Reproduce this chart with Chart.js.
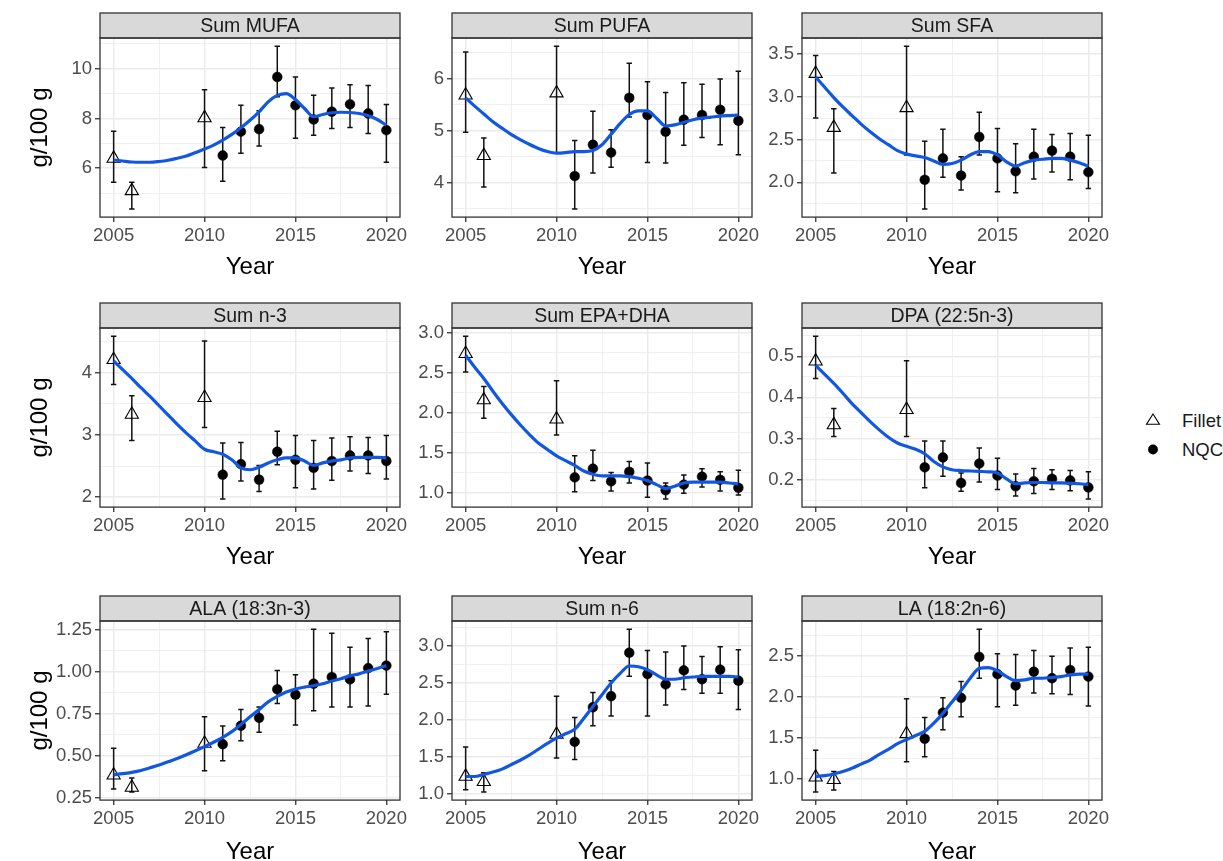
<!DOCTYPE html>
<html>
<head>
<meta charset="utf-8">
<script src="https://cdn.jsdelivr.net/npm/chart.js@4.4.0/dist/chart.umd.min.js"></script>
<style>
  html, body { margin: 0; padding: 0; background: #fff; overflow: hidden; }
  #fig { position: relative; width: 1223px; height: 861px; }
  #fig canvas { position: absolute; }
  .key { position: absolute; left: 1140px; height: 29px; display: flex; align-items: center;
         font-family: "Liberation Sans", Arial, sans-serif; font-size: 18.5px; color: #1a1a1a; }
  .key svg { width: 42px; height: 29px; flex: none; }
</style>
</head>
<body>
<div id="fig">
  <div class="key" style="top:406px">
    <svg viewBox="0 0 42 29"><polygon points="13,8 19.5,18.2 6.5,18.2" fill="none" stroke="#000" stroke-width="1.1"/></svg>
    <span>Fillet</span>
  </div>
  <div class="key" style="top:435px">
    <svg viewBox="0 0 42 29"><circle cx="13" cy="14.5" r="4.9" fill="#000"/></svg>
    <span>NQC</span>
  </div>
</div>
<script>
// Sampling years and sample type for each observation
const years = [2005, 2006, 2010, 2011, 2012, 2013, 2014, 2015, 2016, 2017, 2018, 2019, 2020];
const sampleType = ['Fillet', 'Fillet', 'Fillet', 'NQC', 'NQC', 'NQC', 'NQC', 'NQC', 'NQC', 'NQC', 'NQC', 'NQC', 'NQC'];

// Years at which the fitted trend is given
const smoothYears = [2005, 2005.5, 2006, 2006.5, 2007, 2007.5, 2008, 2008.5, 2009, 2009.5, 2010, 2010.5,
  2011, 2011.5, 2012, 2012.5, 2013, 2013.5, 2014, 2014.5, 2015, 2015.5, 2016, 2016.5,
  2017, 2017.5, 2018, 2018.5, 2019, 2019.5, 2020];

const panelTitles = ['Sum MUFA', 'Sum PUFA', 'Sum SFA', 'Sum n-3', 'Sum EPA+DHA', 'DPA (22:5n-3)',
  'ALA (18:3n-3)', 'Sum n-6', 'LA (18:2n-6)'];
const yTickSteps = [2, 1, 0.5, 1, 0.5, 0.1, 0.25, 0.5, 0.5];
const xTickLabels = [2005, 2010, 2015, 2020];

// g/100 g: mean, lower and upper interval limits, fitted trend
const mufaMean = [6.39, 5.09, 8.02, 6.51, 7.47, 7.57, 9.67, 8.53, 7.96, 8.27, 8.57, 8.2, 7.53];
const mufaLow = [5.43, 4.36, 6.03, 5.47, 6.6, 6.89, 8.87, 7.2, 7.33, 7.6, 7.64, 7.4, 6.24];
const mufaHigh = [7.49, 5.43, 9.16, 7.64, 8.53, 8.31, 10.91, 9.67, 8.93, 9.23, 9.36, 9.33, 8.56];
const mufaSmooth = [6.33, 6.29, 6.25, 6.24, 6.24, 6.27, 6.32, 6.4, 6.49, 6.63, 6.77, 6.93, 7.13, 7.36, 7.63,
  7.93, 8.27, 8.67, 8.93, 9.0, 8.76, 8.4, 8.07, 8.16, 8.23, 8.25, 8.24, 8.2, 8.11, 7.96, 7.73];

const pufaMean = [5.68, 4.52, 5.72, 4.13, 4.73, 4.58, 5.63, 5.3, 4.98, 5.21, 5.3, 5.4, 5.19];
const pufaLow = [4.97, 3.92, 4.57, 3.5, 4.19, 4.3, 5.26, 4.39, 4.38, 4.72, 4.87, 4.73, 4.54];
const pufaHigh = [6.51, 4.86, 6.62, 4.81, 5.37, 5.02, 6.29, 5.94, 5.73, 5.92, 5.89, 5.99, 6.14];
const pufaSmooth = [5.63, 5.47, 5.32, 5.17, 5.05, 4.93, 4.83, 4.74, 4.66, 4.6, 4.57, 4.58, 4.6, 4.6, 4.62,
  4.73, 4.93, 5.14, 5.31, 5.38, 5.38, 5.24, 5.09, 5.11, 5.16, 5.21, 5.24, 5.26, 5.28, 5.29, 5.3];

const sfaMean = [3.27, 2.64, 2.87, 2.03, 2.28, 2.08, 2.53, 2.28, 2.13, 2.3, 2.37, 2.3, 2.12];
const sfaLow = [2.75, 2.11, 2.32, 1.69, 2.06, 1.91, 2.32, 1.89, 1.88, 2.04, 2.12, 2.03, 1.93];
const sfaHigh = [3.48, 2.86, 3.59, 2.48, 2.62, 2.3, 2.82, 2.63, 2.45, 2.62, 2.56, 2.57, 2.55];
const sfaSmooth = [3.23, 3.11, 2.99, 2.88, 2.78, 2.68, 2.59, 2.51, 2.44, 2.37, 2.33, 2.31, 2.29, 2.25, 2.21,
  2.22, 2.26, 2.32, 2.36, 2.36, 2.32, 2.24, 2.19, 2.23, 2.26, 2.27, 2.28, 2.28, 2.26, 2.23, 2.19];

const n3Mean = [4.21, 3.33, 3.6, 2.36, 2.53, 2.28, 2.73, 2.6, 2.47, 2.58, 2.67, 2.67, 2.58];
const n3Low = [3.81, 2.91, 3.12, 1.97, 2.26, 2.09, 2.52, 2.15, 2.13, 2.27, 2.42, 2.38, 2.29];
const n3High = [4.59, 3.63, 4.51, 2.87, 2.88, 2.51, 3.06, 2.99, 2.91, 2.95, 2.97, 2.96, 2.99];
const n3Smooth = [4.19, 4.05, 3.91, 3.76, 3.62, 3.47, 3.32, 3.17, 3.03, 2.9, 2.77, 2.73, 2.69, 2.6, 2.47,
  2.44, 2.48, 2.55, 2.6, 2.63, 2.63, 2.58, 2.51, 2.55, 2.58, 2.6, 2.63, 2.64, 2.64, 2.64, 2.63];

const epaDhaMean = [2.74, 2.16, 1.92, 1.19, 1.3, 1.14, 1.26, 1.15, 1.03, 1.1, 1.2, 1.16, 1.06];
const epaDhaLow = [2.51, 1.93, 1.72, 1.01, 1.15, 1.02, 1.12, 0.94, 0.92, 0.99, 1.07, 1.02, 0.97];
const epaDhaHigh = [2.96, 2.33, 2.4, 1.46, 1.53, 1.25, 1.39, 1.37, 1.12, 1.22, 1.3, 1.26, 1.28];
const epaDhaSmooth = [2.72, 2.57, 2.43, 2.27, 2.12, 1.98, 1.85, 1.73, 1.62, 1.54, 1.46, 1.4, 1.34, 1.27, 1.23,
  1.21, 1.21, 1.21, 1.2, 1.18, 1.15, 1.1, 1.05, 1.08, 1.12, 1.13, 1.13, 1.13, 1.13, 1.12, 1.11];

const dpaMean = [0.488, 0.333, 0.37, 0.23, 0.254, 0.192, 0.239, 0.21, 0.184, 0.196, 0.202, 0.198, 0.181];
const dpaLow = [0.446, 0.305, 0.305, 0.18, 0.208, 0.172, 0.194, 0.176, 0.16, 0.166, 0.176, 0.173, 0.153];
const dpaHigh = [0.549, 0.373, 0.489, 0.294, 0.294, 0.216, 0.277, 0.252, 0.214, 0.227, 0.224, 0.222, 0.219];
const dpaSmooth = [0.478, 0.456, 0.434, 0.41, 0.385, 0.363, 0.341, 0.321, 0.303, 0.289, 0.281, 0.274, 0.263,
  0.244, 0.231, 0.224, 0.222, 0.221, 0.22, 0.219, 0.216, 0.202, 0.19, 0.192, 0.193, 0.193, 0.192, 0.192,
  0.191, 0.19, 0.188];

const alaMean = [0.385, 0.312, 0.574, 0.569, 0.679, 0.726, 0.896, 0.864, 0.929, 0.969, 0.955, 1.022, 1.037];
const alaLow = [0.303, 0.285, 0.411, 0.47, 0.59, 0.64, 0.811, 0.683, 0.768, 0.791, 0.791, 0.797, 0.866];
const alaHigh = [0.545, 0.368, 0.732, 0.677, 0.776, 0.791, 1.008, 0.982, 1.254, 1.23, 1.146, 1.199, 1.238];
const alaSmooth = [0.388, 0.394, 0.402, 0.413, 0.429, 0.445, 0.465, 0.484, 0.506, 0.53, 0.555, 0.581, 0.61,
  0.644, 0.687, 0.732, 0.776, 0.821, 0.854, 0.88, 0.898, 0.909, 0.917, 0.929, 0.945, 0.959, 0.976, 0.988,
  1.004, 1.02, 1.037];

const n6Mean = [1.23, 1.16, 1.8, 1.7, 2.17, 2.32, 2.91, 2.62, 2.48, 2.67, 2.55, 2.68, 2.53];
const n6Low = [1.05, 1.02, 1.48, 1.46, 1.92, 2.05, 2.59, 2.05, 2.2, 2.41, 2.36, 2.36, 2.14];
const n6High = [1.63, 1.28, 2.32, 2.03, 2.37, 2.53, 3.23, 2.94, 2.92, 3.0, 2.86, 2.99, 2.95];
const n6Smooth = [1.23, 1.23, 1.26, 1.29, 1.33, 1.39, 1.45, 1.52, 1.6, 1.68, 1.75, 1.81, 1.87, 2.02, 2.18,
  2.34, 2.5, 2.63, 2.73, 2.72, 2.68, 2.61, 2.55, 2.55, 2.57, 2.58, 2.59, 2.59, 2.59, 2.59, 2.58];

const laMean = [1.02, 0.99, 1.55, 1.49, 1.81, 1.99, 2.49, 2.28, 2.14, 2.31, 2.23, 2.33, 2.25];
const laLow = [0.84, 0.865, 1.21, 1.27, 1.6, 1.76, 2.23, 1.88, 1.9, 2.05, 2.04, 2.03, 1.89];
const laHigh = [1.35, 1.09, 1.98, 1.75, 1.99, 2.19, 2.83, 2.53, 2.52, 2.57, 2.5, 2.6, 2.61];
const laSmooth = [1.03, 1.04, 1.06, 1.09, 1.13, 1.18, 1.23, 1.3, 1.36, 1.43, 1.48, 1.53, 1.58, 1.68, 1.8,
  1.94, 2.08, 2.23, 2.35, 2.36, 2.32, 2.25, 2.2, 2.21, 2.23, 2.23, 2.24, 2.25, 2.27, 2.28, 2.28];

// ---- page layout (pixels) ----
const colLeft = [100, 452, 802];
const plotWidth = 300;
const rowStripTop = [13, 303, 596];
const rowPlotTop = [38, 328, 621];
const rowPlotBottom = [217, 507, 800];
const rowTitleGap = [50.5, 50.5, 52.5];

const FONT = '"Liberation Sans", Arial, Helvetica, sans-serif';
const TREND_BLUE = '#1257E2';
const TITLE_SIZE = 24;
const TITLE_HALF_LINE = TITLE_SIZE * 1.2 / 2;

const panelSeries = [
  [mufaMean, mufaLow, mufaHigh, mufaSmooth],
  [pufaMean, pufaLow, pufaHigh, pufaSmooth],
  [sfaMean, sfaLow, sfaHigh, sfaSmooth],
  [n3Mean, n3Low, n3High, n3Smooth],
  [epaDhaMean, epaDhaLow, epaDhaHigh, epaDhaSmooth],
  [dpaMean, dpaLow, dpaHigh, dpaSmooth],
  [alaMean, alaLow, alaHigh, alaSmooth],
  [n6Mean, n6Low, n6High, n6Smooth],
  [laMean, laLow, laHigh, laSmooth]
];

// Error bars under the points, grey strip with the facet name, dark panel frame
const facetPlugin = {
  id: 'facet',
  beforeDatasetsDraw(chart, args, opts) {
    const { ctx, scales: { x, y } } = chart;
    ctx.save();
    ctx.strokeStyle = '#111';
    ctx.lineWidth = 1.5;
    const cap = 2.7;
    opts.years.forEach((yr, k) => {
      const px = x.getPixelForValue(yr);
      const lo = y.getPixelForValue(opts.low[k]);
      const hi = y.getPixelForValue(opts.high[k]);
      ctx.beginPath();
      ctx.moveTo(px, hi); ctx.lineTo(px, lo);
      ctx.moveTo(px - cap, hi); ctx.lineTo(px + cap, hi);
      ctx.moveTo(px - cap, lo); ctx.lineTo(px + cap, lo);
      ctx.stroke();
    });
    ctx.restore();
  },
  afterDraw(chart, args, opts) {
    const { ctx, chartArea: a } = chart;
    const top = opts.stripTop;
    ctx.save();
    ctx.fillStyle = '#D9D9D9';
    ctx.fillRect(a.left, top, a.right - a.left, a.top - top);
    ctx.strokeStyle = '#333';
    ctx.lineWidth = 1.3;
    ctx.strokeRect(a.left, top, a.right - a.left, a.top - top);
    ctx.strokeRect(a.left, a.top, a.right - a.left, a.bottom - a.top);
    ctx.fillStyle = '#1A1A1A';
    ctx.font = '19.5px ' + FONT;
    ctx.textAlign = 'center';
    ctx.textBaseline = 'middle';
    ctx.fillText(opts.title, (a.left + a.right) / 2, (top + a.top) / 2 + 1);
    ctx.restore();
  }
};

function decimalsOf(step) {
  const s = String(step);
  return s.includes('.') ? s.split('.')[1].length : 0;
}

function makePanel(i) {
  const [mean, low, high, smooth] = panelSeries[i];
  const row = Math.floor(i / 3), col = i % 3;
  const step = yTickSteps[i];
  const dec = decimalsOf(step);
  const yw = col === 0 ? 100 : 52;
  const padRight = 30;
  const canvasLeft = colLeft[col] - yw;
  const canvasTop = rowStripTop[row] - 2;
  const padTop = rowPlotTop[row] - canvasTop;
  const xh = rowTitleGap[row] + TITLE_HALF_LINE;
  const width = yw + plotWidth + padRight;
  const height = Math.round(rowPlotBottom[row] - canvasTop + xh);

  // y range: data extent (interval limits and trend) widened by 5% on each side
  const all = low.concat(high, smooth);
  const dMin = Math.min(...all), dMax = Math.max(...all);
  const span = dMax - dMin;
  const yMin = dMin - 0.05 * span, yMax = dMax + 0.05 * span;
  const xMin = 2005 - 0.05 * 15, xMax = 2020 + 0.05 * 15;

  const canvas = document.createElement('canvas');
  canvas.width = width;
  canvas.height = height;
  canvas.style.left = canvasLeft + 'px';
  canvas.style.top = canvasTop + 'px';
  canvas.style.width = width + 'px';
  canvas.style.height = height + 'px';
  document.getElementById('fig').appendChild(canvas);

  const isMajorY = v => Math.abs(v / step - Math.round(v / step)) < 1e-6;
  const isMajorX = v => xTickLabels.includes(v);

  const pts = type => years
    .map((yr, k) => ({ x: yr, y: mean[k], t: sampleType[k] }))
    .filter(p => p.t === type);

  new Chart(canvas, {
    type: 'scatter',
    data: {
      datasets: [
        {
          type: 'line', label: 'trend',
          data: smoothYears.map((yr, k) => ({ x: yr, y: smooth[k] })),
          borderColor: TREND_BLUE, borderWidth: 3.2, pointRadius: 0,
          cubicInterpolationMode: 'monotone', fill: false, order: 0
        },
        {
          label: 'Fillet', data: pts('Fillet'), pointStyle: 'triangle', pointRadius: 7.6,
          backgroundColor: 'rgba(0,0,0,0)', borderColor: '#000', borderWidth: 1.1, order: 1
        },
        {
          label: 'NQC', data: pts('NQC'), pointStyle: 'circle', pointRadius: 4.9,
          backgroundColor: '#000', borderColor: '#000', borderWidth: 0.5, order: 2
        }
      ]
    },
    options: {
      responsive: false,
      animation: false,
      events: [],
      layout: { padding: { top: padTop, right: padRight, bottom: 0, left: 0 } },
      plugins: {
        legend: { display: false },
        tooltip: { enabled: false },
        facet: { years, low, high, title: panelTitles[i], stripTop: 2 }
      },
      scales: {
        x: {
          type: 'linear', min: xMin, max: xMax, bounds: 'data',
          afterBuildTicks: s => {
            s.ticks = [2005, 2007.5, 2010, 2012.5, 2015, 2017.5, 2020].map(v => ({ value: v }));
          },
          afterFit: s => { s.height = xh; s.paddingLeft = 0; s.paddingRight = 0; },
          border: { display: false },
          grid: {
            color: '#EBEBEB',
            lineWidth: c => isMajorX(c.tick.value) ? 1.5 : 0.75,
            tickColor: c => isMajorX(c.tick.value) ? '#333' : 'rgba(0,0,0,0)',
            tickWidth: 1.3,
            tickLength: 5,
            drawTicks: true
          },
          ticks: {
            autoSkip: false, maxRotation: 0, minRotation: 0, padding: 3,
            color: '#4D4D4D', font: { family: FONT, size: 18.5 },
            callback: v => isMajorX(v) ? String(v) : ''
          },
          title: {
            display: true, text: 'Year', color: '#000',
            font: { family: FONT, size: TITLE_SIZE }, padding: { top: 0, bottom: 0 }
          }
        },
        y: {
          type: 'linear', min: yMin, max: yMax, bounds: 'data',
          afterBuildTicks: s => {
            const h = step / 2;
            const out = [];
            for (let v = Math.ceil(yMin / h - 1e-9) * h; v <= yMax + 1e-9; v += h) {
              out.push({ value: Math.round(v * 1e6) / 1e6 });
            }
            s.ticks = out;
          },
          afterFit: s => { s.width = yw; s.paddingTop = 0; s.paddingBottom = 0; },
          border: { display: false },
          grid: {
            color: '#EBEBEB',
            lineWidth: c => isMajorY(c.tick.value) ? 1.5 : 0.75,
            tickColor: c => isMajorY(c.tick.value) ? '#333' : 'rgba(0,0,0,0)',
            tickWidth: 1.3,
            tickLength: 5,
            drawTicks: true
          },
          ticks: {
            autoSkip: false, padding: 3,
            color: '#4D4D4D', font: { family: FONT, size: 18.5 },
            callback: v => isMajorY(v) ? v.toFixed(dec) : ''
          },
          title: {
            display: col === 0, text: 'g/100 g', color: '#000',
            font: { family: FONT, size: TITLE_SIZE }, padding: { top: 40.5 - TITLE_HALF_LINE, bottom: 0 }
          }
        }
      }
    },
    plugins: [facetPlugin]
  });
}

for (let i = 0; i < 9; i++) makePanel(i);
</script>
</body>
</html>
